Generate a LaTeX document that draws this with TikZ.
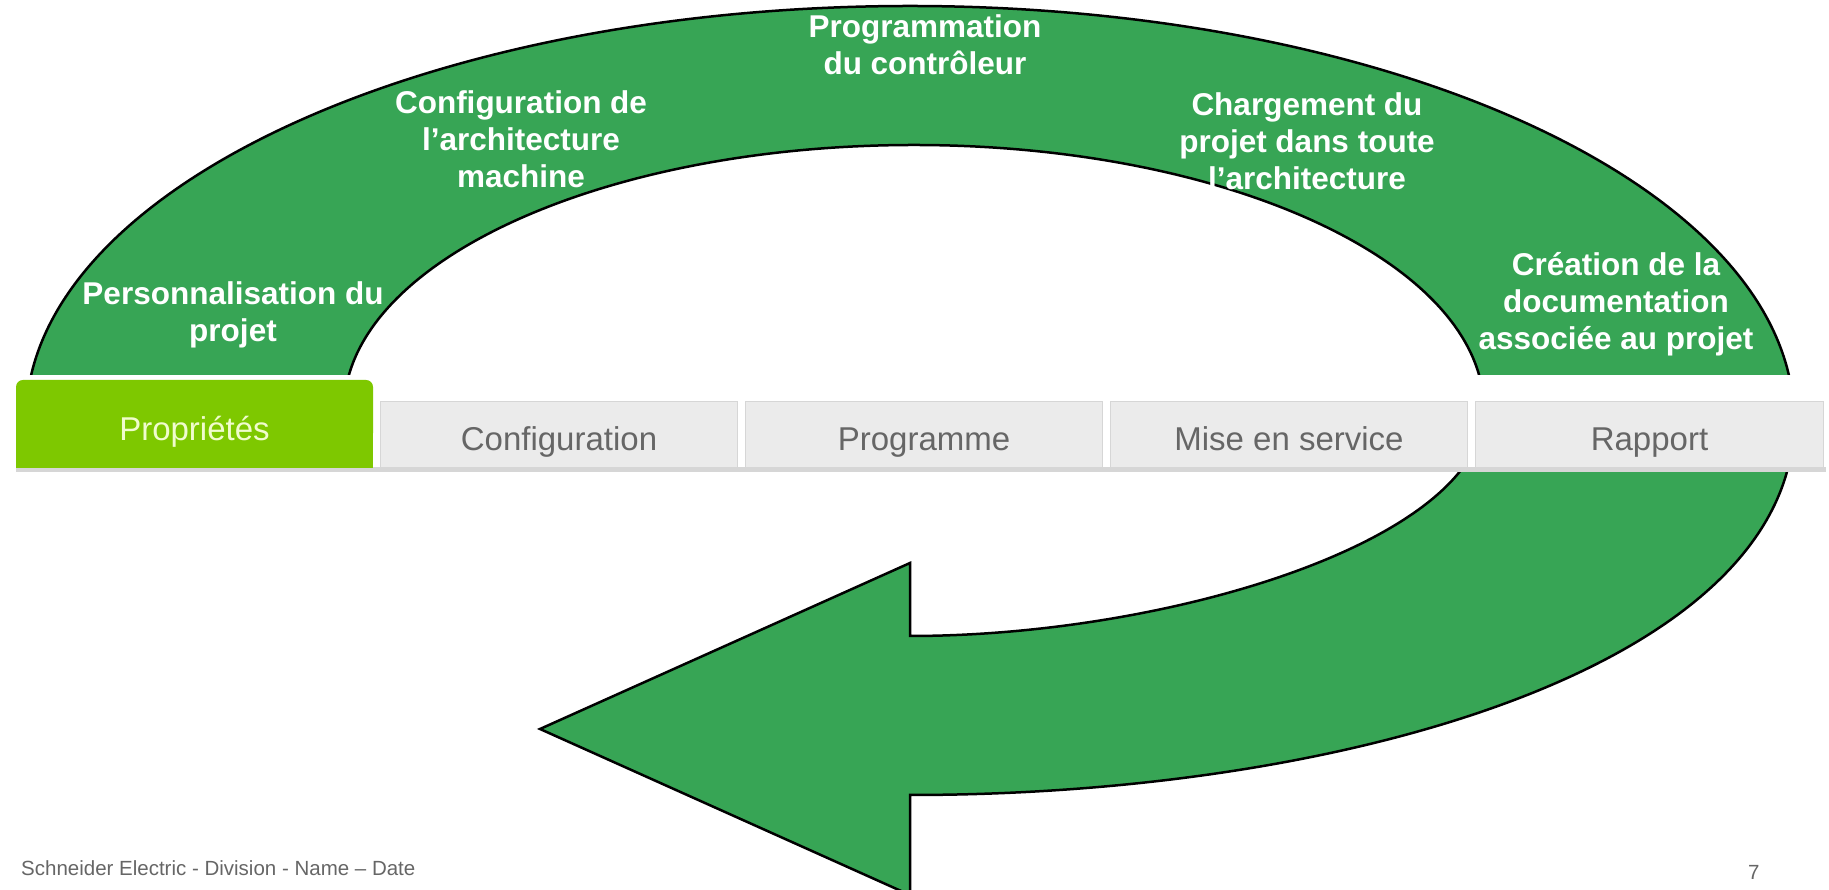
\documentclass[tikz,border=0pt]{standalone}
\usepackage{fontspec}
\setmainfont{Liberation Sans}
\usetikzlibrary{positioning}

\definecolor{loopgreen}{RGB}{55,165,85}
\definecolor{tabgreen}{RGB}{126,200,0}
\definecolor{tabgrey}{RGB}{235,235,235}
\definecolor{tabedge}{RGB}{214,214,214}
\definecolor{greytext}{RGB}{102,102,102}
\definecolor{palegreen}{RGB}{240,252,205}

\begin{document}
\begin{tikzpicture}[x=1pt,y=1pt,node distance=7pt,
   steptext/.style={text=white,align=center,inner sep=0pt,
     font=\bfseries\fontsize{31.5}{37}\selectfont},
   tabbox/.style={draw=tabedge,fill=tabgrey,line width=1pt,text=greytext,
     minimum height=66pt,inner sep=0pt,text height=40pt,text depth=7pt,
     font=\fontsize{33}{38}\selectfont},
   footer/.style={text=greytext,inner sep=0pt,font=\fontsize{20.5}{24}\selectfont}]
   \useasboundingbox (0,0) rectangle (1829,890);

   % the big loop arrow around the tab bar
   \draw[fill=loopgreen,line width=2.5pt]
     (26,470) arc[start angle=180,end angle=0,x radius=884,y radius=414]
     .. controls (1794,230) and (1360,95) .. (910,95)
     -- (910,-5) -- (540,161) -- (910,327) -- (910,254)
     .. controls (1170,254) and (1484,350) .. (1484,480)
     arc[start angle=0,end angle=180,x radius=570,y radius=265]
     -- cycle;

   \node[steptext] (perso)  at (233,575)  {Personnalisation du\\projet};
   \node[steptext] (config) at (521,751)  {Configuration de\\l’architecture\\machine};
   \node[steptext] (prog)   at (925,845)  {Programmation\\du contrôleur};
   \node[steptext] (charge) at (1307,749) {Chargement du\\projet dans toute\\l’architecture};
   \node[steptext] (doc)    at (1616,586) {Création de la\\documentation\\associée au projet};

   % tab bar
   \fill[white] (0,418) rectangle (1829,515);
   \fill[tabedge] (16,418) rectangle (1826,423);
   \fill[tabgreen,rounded corners=7pt] (16,450) rectangle (373,510);
   \fill[tabgreen] (16,422) rectangle (373,460);
   \node[text=palegreen,font=\fontsize{33}{38}\selectfont] (props) at (194.5,458) {Propriétés};
   \node[tabbox,minimum width=357pt,anchor=south west] (conf) at (380,422) {Configuration};
   \node[tabbox,minimum width=357pt,right=of conf] (progtab) {Programme};
   \node[tabbox,minimum width=357pt,right=of progtab] (mise) {Mise en service};
   \node[tabbox,minimum width=348pt,right=of mise] (rapport) {Rapport};

   \node[footer,anchor=base west] (foot) at (21,14) {Schneider Electric - Division - Name – Date};
   \node[footer,anchor=base west] (pagenum) at (1748,10) {7};
\end{tikzpicture}
\end{document}
